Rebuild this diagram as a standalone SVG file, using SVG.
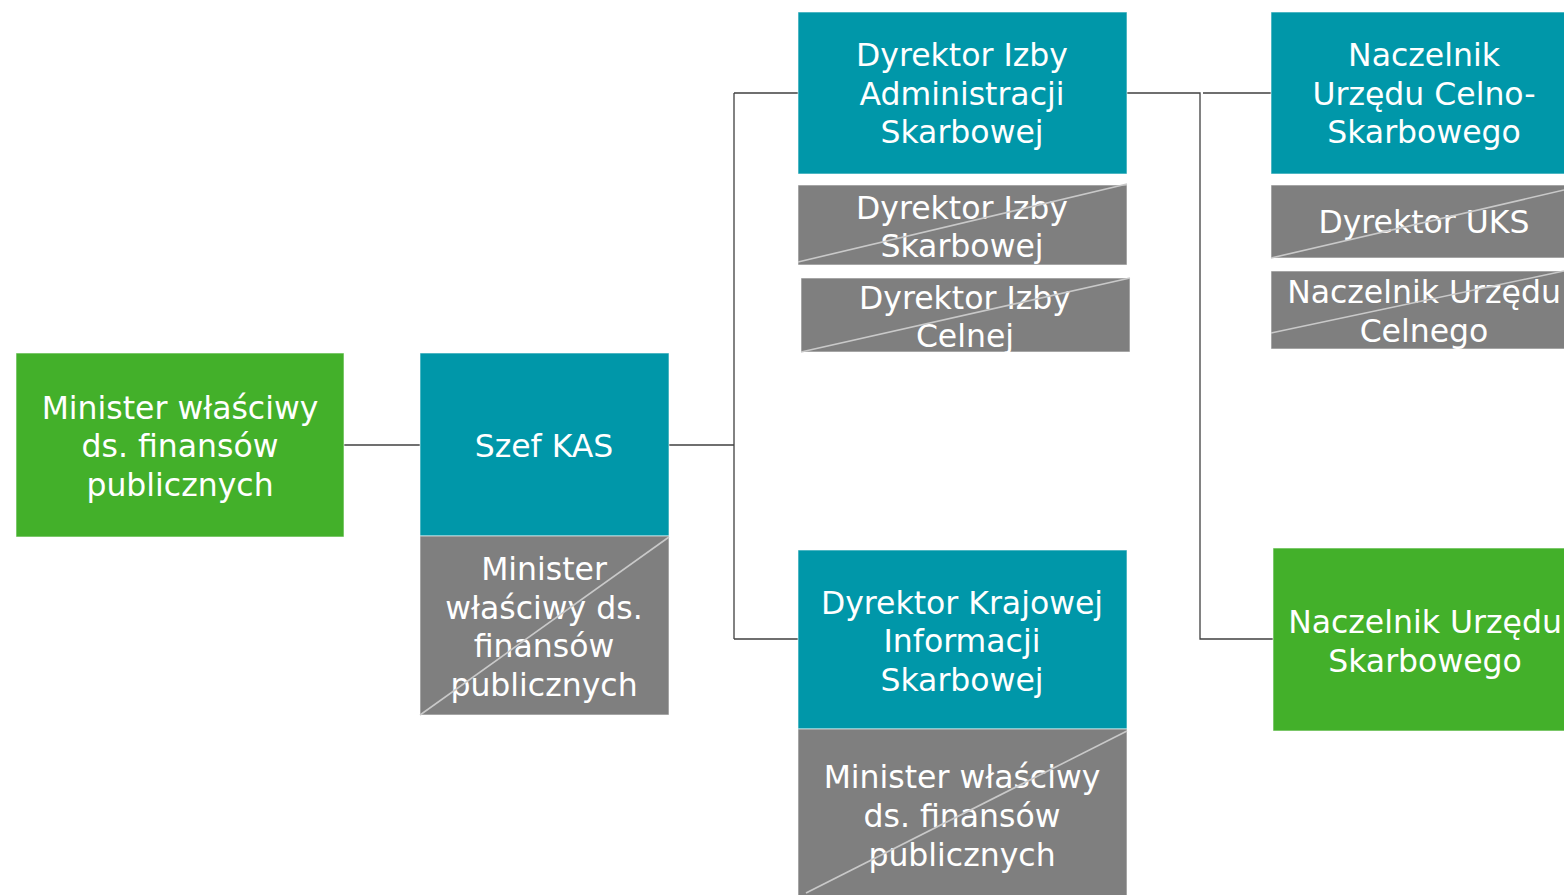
<svg xmlns="http://www.w3.org/2000/svg" width="1564" height="895" viewBox="0 0 1564 895">
<style>
.g{fill:#43b02a}
.t{fill:#0097a9}
.x{fill:#7f7f7f}
.b{stroke:#ffffff;stroke-opacity:0.6;stroke-width:1}
.d{stroke:#c9c9c9;stroke-width:1.6;fill:none}
.c{stroke:#404040;stroke-width:1.3;fill:none}
text{font-family:"DejaVu Sans","Verdana",sans-serif;font-size:31.5px;fill:#ffffff;text-anchor:middle}
</style>
<rect width="1564" height="895" fill="#ffffff"/>
<g id="connectors">
<path class="c" d="M344,445H420"/>
<path class="c" d="M669,445H734M734,93V639M734,93H798M734,639H798"/>
<path class="c" d="M1127,93H1200V639H1273M1203,93H1271"/>
</g>
<g id="minister-left">
<rect class="g b" x="16" y="353" width="328" height="184"/>
<text x="180" y="419">Minister właściwy</text>
<text x="180" y="457">ds. finansów</text>
<text x="180" y="496">publicznych</text>
</g>
<g id="szef-kas">
<rect class="t b" x="420" y="353" width="249" height="183"/>
<text x="544" y="457">Szef KAS</text>
</g>
<g id="minister-old-1">
<rect class="x b" x="420" y="536" width="249" height="179"/>
<text x="544" y="580">Minister</text>
<text x="544" y="619">właściwy ds.</text>
<text x="544" y="657">finansów</text>
<text x="544" y="696">publicznych</text>
<path class="d" d="M420,715L669,537"/>
</g>
<g id="dyrektor-ias">
<rect class="t b" x="798" y="12" width="329" height="162"/>
<text x="962" y="66">Dyrektor Izby</text>
<text x="962" y="105">Administracji</text>
<text x="962" y="143">Skarbowej</text>
</g>
<g id="dyrektor-is">
<rect class="x b" x="798" y="185" width="329" height="80"/>
<text x="962" y="219">Dyrektor Izby</text>
<text x="962" y="257">Skarbowej</text>
<path class="d" d="M798,262L1127,184"/>
</g>
<g id="dyrektor-ic">
<rect class="x b" x="801" y="278" width="329" height="74"/>
<text x="965" y="309">Dyrektor Izby</text>
<text x="965" y="347">Celnej</text>
<path class="d" d="M801,352L1130,278"/>
</g>
<g id="dyrektor-kis">
<rect class="t b" x="798" y="550" width="329" height="179"/>
<text x="962" y="614">Dyrektor Krajowej</text>
<text x="962" y="652">Informacji</text>
<text x="962" y="691">Skarbowej</text>
</g>
<g id="minister-old-2">
<rect class="x b" x="798" y="729" width="329" height="170"/>
<text x="962" y="788">Minister właściwy</text>
<text x="962" y="827">ds. finansów</text>
<text x="962" y="866">publicznych</text>
<path class="d" d="M806,893L1127,731"/>
</g>
<g id="naczelnik-ucs">
<rect class="t b" x="1271" y="12" width="300" height="162"/>
<text x="1424" y="66">Naczelnik</text>
<text x="1424" y="105">Urzędu Celno-</text>
<text x="1424" y="143">Skarbowego</text>
</g>
<g id="dyrektor-uks">
<rect class="x b" x="1271" y="185" width="300" height="73"/>
<text x="1424" y="233">Dyrektor UKS</text>
<path class="d" d="M1271,258L1564,190"/>
</g>
<g id="naczelnik-uc">
<rect class="x b" x="1271" y="271" width="300" height="78"/>
<text x="1424" y="303">Naczelnik Urzędu</text>
<text x="1424" y="342">Celnego</text>
<path class="d" d="M1271,333L1564,271"/>
</g>
<g id="naczelnik-us">
<rect class="g b" x="1273" y="548" width="300" height="183"/>
<text x="1425" y="633">Naczelnik Urzędu</text>
<text x="1425" y="672">Skarbowego</text>
</g>
</svg>
